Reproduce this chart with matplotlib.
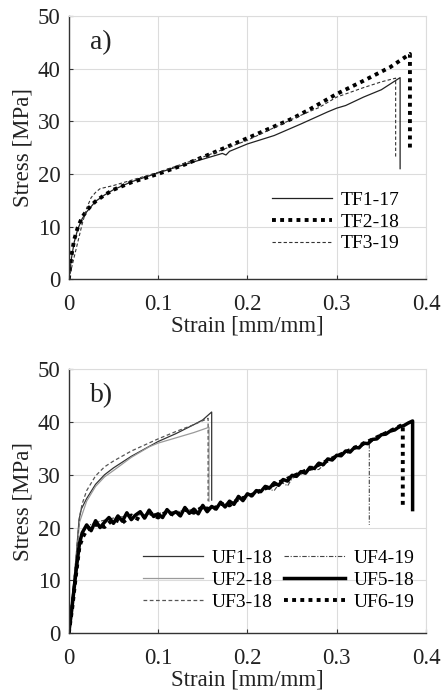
import numpy as np
import matplotlib
matplotlib.use("Agg")
import matplotlib.pyplot as plt

plt.rcParams['font.family'] = ['Liberation Serif', 'DejaVu Serif']

# ---- panel a) : TF specimens ----
tf1_strain = [0, 0.003, 0.006, 0.01, 0.015, 0.02, 0.025, 0.03, 0.04, 0.05, 0.07, 0.1, 0.13, 0.15,
              0.172, 0.176, 0.18, 0.2, 0.23, 0.26, 0.29, 0.3, 0.31, 0.33, 0.35, 0.371, 0.371]
tf1_stress = [0, 4, 7, 9.5, 11.5, 12.8, 13.8, 14.8, 16, 17, 18.5, 20.2, 21.8, 22.8,
              23.9, 23.6, 24.3, 25.7, 27.3, 29.5, 31.8, 32.5, 33.0, 34.6, 36.0, 38.3, 21]

tf2_strain = [0, 0.003, 0.006, 0.01, 0.015, 0.02, 0.025, 0.03, 0.04, 0.05, 0.07, 0.1, 0.13, 0.16,
              0.2, 0.25, 0.27, 0.3, 0.33, 0.36, 0.382, 0.382]
tf2_stress = [0, 4.5, 7.5, 9.8, 11.8, 13, 14, 14.8, 16, 17, 18.4, 20, 21.8, 23.9,
              26.8, 30.5, 32.3, 35.2, 37.7, 40.3, 42.8, 24.5]

tf3_strain = [0, 0.005, 0.01, 0.015, 0.02, 0.025, 0.03, 0.035, 0.05, 0.07, 0.1, 0.15, 0.2, 0.25,
              0.27, 0.28, 0.3, 0.33, 0.35, 0.366, 0.366]
tf3_stress = [0, 3.5, 7, 10.5, 13.5, 15.5, 16.5, 17.2, 17.8, 18.8, 20.3, 23.2, 26.4, 30.4,
              31.9, 32.6, 34.6, 36.4, 37.5, 38.2, 23.2]

# ---- panel b) : UF specimens ----
uf1_strain = [0, 0.004, 0.008, 0.0115, 0.014, 0.02, 0.03, 0.04, 0.05, 0.07, 0.1, 0.12, 0.14, 0.15, 0.16, 0.16]
uf1_stress = [0, 7, 14, 21.5, 23.5, 25.5, 28.2, 30.0, 31.3, 33.5, 36.3, 37.8, 39.5, 40.4, 41.9, 25.2]

uf2_strain = [0, 0.004, 0.008, 0.012, 0.015, 0.02, 0.03, 0.04, 0.05, 0.07, 0.09, 0.1, 0.12, 0.14, 0.157, 0.157]
uf2_stress = [0, 6.5, 13, 21, 22.5, 25, 27.8, 29.6, 30.8, 33.3, 35.3, 36.0, 37.0, 38.0, 39.0, 25]

uf3_strain = [0, 0.004, 0.008, 0.012, 0.015, 0.02, 0.03, 0.04, 0.05, 0.07, 0.1, 0.12, 0.14, 0.156, 0.156]
uf3_stress = [0, 7, 14, 22, 24.5, 27, 29.8, 31.5, 32.6, 34.5, 36.8, 38.2, 39.5, 40.7, 25]

uf4_strain = [0, 0.004, 0.008, 0.012, 0.016, 0.02, 0.03, 0.05, 0.07, 0.1, 0.13, 0.16, 0.18, 0.2,
              0.22, 0.23, 0.235, 0.24, 0.245, 0.25, 0.27, 0.28, 0.29, 0.3, 0.32, 0.3365, 0.3365]
uf4_stress = [0, 5.5, 11.5, 17, 19.3, 20.2, 21.0, 21.8, 22.3, 22.7, 23.2, 23.9, 24.6, 26.0,
              27.4, 27.0, 28.2, 28.4, 27.9, 29.3, 30.9, 31.0, 32.6, 33.4, 35.0, 36.3, 20.5]

uf5_strain = [0, 0.003, 0.006, 0.009, 0.012,
              0.015, 0.02, 0.025, 0.03, 0.035, 0.04, 0.045, 0.05, 0.055, 0.06, 0.065, 0.07, 0.075,
              0.08, 0.085, 0.09, 0.095, 0.1, 0.105, 0.11, 0.115, 0.12, 0.125, 0.13, 0.135, 0.14,
              0.145, 0.15, 0.155, 0.16, 0.165, 0.17, 0.175, 0.18, 0.185, 0.19, 0.195, 0.2, 0.205,
              0.21, 0.215, 0.22, 0.225, 0.23, 0.235, 0.24, 0.245, 0.25, 0.255, 0.26, 0.265, 0.27,
              0.275, 0.28, 0.285, 0.29, 0.295, 0.3, 0.305, 0.31, 0.315, 0.32, 0.325, 0.33, 0.335,
              0.34, 0.345, 0.35, 0.355, 0.36, 0.365, 0.37, 0.375, 0.38, 0.385, 0.385]
uf5_stress = [0, 4, 8.5, 13, 17,
              19.0, 20.5, 19.4, 21.3, 20.0, 21.0, 21.9, 20.8, 22.2, 21.2, 22.8, 21.5, 22.4,
              23.0, 21.8, 23.3, 22.1, 22.6, 21.9, 23.4, 22.5, 23.0, 22.2, 23.8, 22.7, 23.5,
              22.6, 24.2, 23.0, 24.0, 23.5, 24.8, 23.9, 25.0, 24.4, 25.9, 25.1, 26.4, 26.0,
              27.0, 26.8, 27.8, 27.5, 28.5, 28.0, 29.1, 28.8, 29.9, 29.7, 30.6, 30.3, 31.4,
              31.2, 32.2, 31.9, 33.0, 32.8, 33.7, 33.6, 34.5, 34.3, 35.2, 35.1, 36.0, 35.9,
              36.7, 36.8, 37.6, 37.7, 38.3, 38.5, 39.1, 39.3, 39.8, 40.2, 23.4]

uf6_strain = [0, 0.004, 0.008, 0.012, 0.016, 0.02, 0.03, 0.04, 0.05, 0.06, 0.07, 0.08, 0.09, 0.1,
              0.11, 0.12, 0.13, 0.14, 0.15, 0.16, 0.17, 0.18, 0.19, 0.2, 0.22, 0.24, 0.26, 0.28,
              0.3, 0.32, 0.34, 0.36, 0.374, 0.374]
uf6_stress = [0, 5, 11, 16.5, 18.3, 19.5, 20.6, 20.1, 21.6, 20.9, 22.3, 21.4, 22.8, 21.9,
              23.0, 22.2, 23.4, 22.8, 23.9, 23.3, 24.5, 24.2, 25.4, 25.8, 27.4, 28.9, 30.4, 31.9,
              33.5, 35.1, 36.7, 38.3, 39.5, 23.9]

xticks = [0, 0.1, 0.2, 0.3, 0.4]
xticklabels = ['0', '0.1', '0.2', '0.3', '0.4']
yticks = [0, 10, 20, 30, 40, 50]

dotted = (0, (1, 1.1))

fig = plt.figure(figsize=(4.41, 6.98), dpi=100)
ax1 = fig.add_axes([0.156, 0.600, 0.810, 0.377])
ax2 = fig.add_axes([0.156, 0.093, 0.810, 0.378])


def style(ax, tag):
    ax.set_xlim(0, 0.4)
    ax.set_ylim(0, 50)
    ax.set_xticks(xticks)
    ax.set_xticklabels(xticklabels)
    ax.set_yticks(yticks)
    ax.grid(True, color='#dcdcdc', lw=0.8)
    ax.set_axisbelow(True)
    for s in ['top', 'right']:
        ax.spines[s].set_color('#dcdcdc')
        ax.spines[s].set_linewidth(0.8)
    for s in ['left', 'bottom']:
        ax.spines[s].set_color('#333333')
        ax.spines[s].set_linewidth(1.0)
    ax.tick_params(direction='in', length=3, width=0.8, labelsize=16.5, colors='#333333',
                   labelcolor='#222222')
    ax.tick_params(axis='x', pad=11)
    ax.tick_params(axis='y', pad=6)
    ax.set_xlabel('Strain [mm/mm]', fontsize=16.5, color='#222222', labelpad=0)
    ax.set_ylabel('Stress [MPa]', fontsize=16.5, color='#222222', labelpad=3)
    ax.text(0.06, 0.90, tag, transform=ax.transAxes, fontsize=20, va='center', ha='left',
            color='#222222')


style(ax1, 'a)')
ax1.plot(tf1_strain, tf1_stress, color='#222222', lw=0.9, label='TF1-17')
ax1.plot(tf2_strain, tf2_stress, color='black', lw=2.8, ls=dotted, label='TF2-18')
ax1.plot(tf3_strain, tf3_stress, color='#333333', lw=0.8, ls=(0, (3, 2)), label='TF3-19')
ax1.legend(loc='upper left', bbox_to_anchor=(0.569, 0.335), frameon=False, fontsize=14,
           handlelength=3.1, handletextpad=0.45, labelspacing=0.22, borderpad=0, borderaxespad=0)

style(ax2, 'b)')
ax2.plot(uf1_strain, uf1_stress, color='#333333', lw=0.9, label='UF1-18')
ax2.plot(uf2_strain, uf2_stress, color='#9a9a9a', lw=0.9, label='UF2-18')
ax2.plot(uf3_strain, uf3_stress, color='#555555', lw=0.9, ls=(0, (3, 2)), label='UF3-18')
ax2.plot(uf4_strain, uf4_stress, color='#444444', lw=0.8, ls=(0, (4, 1.5, 1, 1.5)), label='UF4-19')
ax2.plot(uf5_strain, uf5_stress, color='black', lw=2.5, label='UF5-18')
ax2.plot(uf6_strain, uf6_stress, color='black', lw=2.8, ls=dotted, label='UF6-19')
ax2.legend(loc='upper left', bbox_to_anchor=(0.207, 0.318), frameon=False, fontsize=14, ncol=2,
           handlelength=3.1, handletextpad=0.45, labelspacing=0.22, columnspacing=0.6,
           borderpad=0, borderaxespad=0)

fig.savefig('out.png', dpi=100)
